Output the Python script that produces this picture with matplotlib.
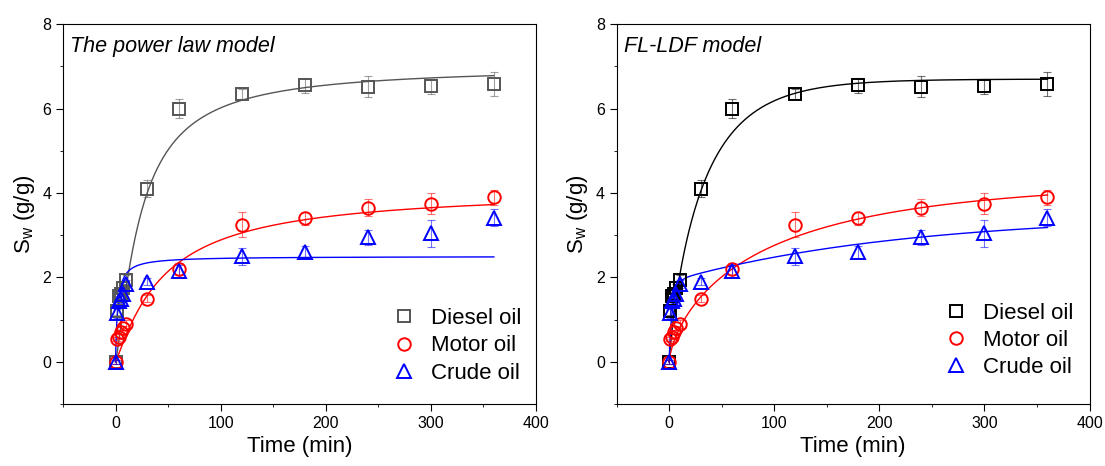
import numpy as np
import matplotlib.pyplot as plt
from matplotlib.ticker import MultipleLocator

plt.rcParams['font.family'] = ['Liberation Sans', 'DejaVu Sans']

# measured sorption capacity vs time
time = [0, 1, 3, 5, 7, 10, 30, 60, 120, 180, 240, 300, 360]
diesel = [0, 1.2, 1.55, 1.6, 1.75, 1.95, 4.1, 6.0, 6.35, 6.55, 6.52, 6.53, 6.58]
diesel_err = [0.05, 0.1, 0.1, 0.1, 0.1, 0.1, 0.2, 0.22, 0.12, 0.18, 0.25, 0.18, 0.28]
motor = [0, 0.55, 0.6, 0.7, 0.8, 0.9, 1.5, 2.2, 3.25, 3.4, 3.65, 3.75, 3.9]
motor_err = [0.05, 0.05, 0.05, 0.05, 0.05, 0.1, 0.08, 0.15, 0.3, 0.15, 0.2, 0.25, 0.18]
crude = [0, 1.15, 1.45, 1.5, 1.6, 1.85, 1.9, 2.15, 2.5, 2.6, 2.95, 3.05, 3.42]
crude_err = [0.05, 0.1, 0.1, 0.1, 0.1, 0.1, 0.08, 0.15, 0.2, 0.15, 0.18, 0.32, 0.2]

# fitted parameters, power law model: S = a*t^n / (b + t^n)
power_law = {'Diesel oil': (7.0, 56.6, 1.27),
             'Motor oil': (4.1, 73.0, 1.12),
             'Crude oil': (2.5, 2.0, 1.0)}
# fitted parameters, FL-LDF model: S = a*(1-exp(-(t/tau)^beta)) + a2*(1-exp(-k2*t))
fl_ldf = {'Diesel oil': (6.7, 33.0, 0.85, 0, 0),
          'Motor oil': (4.3, 96.4, 0.70, 0, 0),
          'Crude oil': (1.9, 3.0, 0.9, 1.6, 0.0045)}


def power_curve(t, p):
    a, b, n = p
    return a * t ** n / (b + t ** n)


def ldf_curve(t, p):
    a, tau, beta, a2, k2 = p
    return a * (1 - np.exp(-(t / tau) ** beta)) + a2 * (1 - np.exp(-k2 * t))


series = [('Diesel oil', diesel, diesel_err, 's', 8),
          ('Motor oil', motor, motor_err, 'o', 9),
          ('Crude oil', crude, crude_err, '^', 10)]

fig = plt.figure(figsize=(11.05, 4.66), dpi=100)
ax1 = fig.add_axes([0.057, 0.133, 0.428, 0.815])
ax2 = fig.add_axes([0.558, 0.133, 0.428, 0.815])

tt = np.linspace(0, 360, 800)
panels = [(ax1, power_law, power_curve, 'The power law model', '#555555', (1.016, -0.005)),
          (ax2, fl_ldf, ldf_curve, 'FL-LDF model', 'black', (1.013, 0.01))]

for ax, params, func, title, dcol, anchor in panels:
    colors = {'Diesel oil': dcol, 'Motor oil': 'red', 'Crude oil': 'blue'}
    for name, vals, err, mk, ms in series:
        c = colors[name]
        ax.plot(tt, func(tt, params[name]), color=c, lw=1.0, zorder=2)
        ax.errorbar(time, vals, yerr=err, fmt='none', ecolor=c, elinewidth=0.8,
                    capsize=3, capthick=0.8, alpha=0.55, zorder=3)
        ax.plot(time, vals, mk, ms=ms, mfc='none', mec=c, mew=1.4, zorder=4,
                label=name)
    ax.set_xlim(-50, 400)
    ax.set_ylim(-1, 8)
    ax.xaxis.set_major_locator(MultipleLocator(100))
    ax.xaxis.set_minor_locator(MultipleLocator(50))
    ax.yaxis.set_major_locator(MultipleLocator(2))
    ax.yaxis.set_minor_locator(MultipleLocator(1))
    ax.tick_params(which='major', direction='out', length=5, labelsize=11.5)
    ax.tick_params(which='minor', direction='out', length=2.5)
    ax.set_xlabel('Time (min)', fontsize=16)
    ax.set_ylabel('S$_\\mathregular{w}$ (g/g)', fontsize=16)
    ax.text(0.015, 0.97, title, transform=ax.transAxes, fontsize=15.5,
            style='italic', va='top', ha='left')
    ax.legend(loc='lower right', bbox_to_anchor=anchor, frameon=False,
              fontsize=16, handletextpad=0.6, labelspacing=0.28,
              handlelength=1.2, borderaxespad=0.6)

fig.savefig('out.png', dpi=100)
